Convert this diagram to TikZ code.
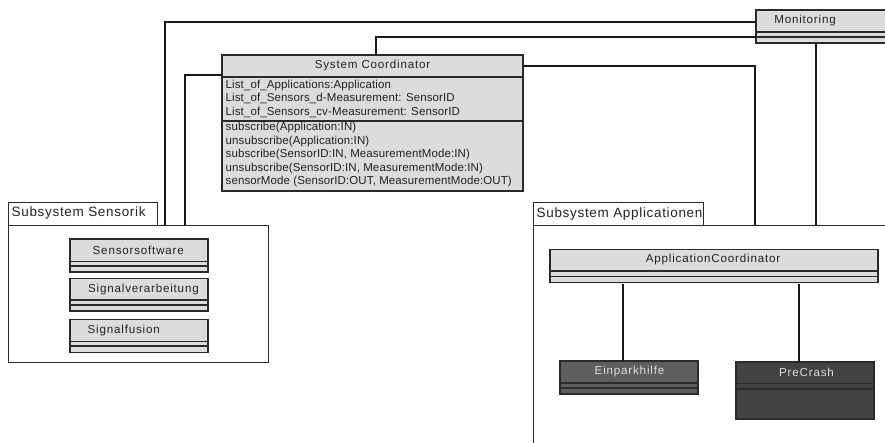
\documentclass[tikz,border=0pt]{standalone}
\usepackage{fontspec}
\setmainfont{Liberation Sans}
\newfontfamily\hdfont[LetterSpace=7]{Liberation Sans}
\newfontfamily\bdfont[LetterSpace=1]{Liberation Sans}
\newfontfamily\tabfont[LetterSpace=5]{Liberation Sans}
\definecolor{classfill}{HTML}{DCDCDC}
\definecolor{edge}{HTML}{2A2A2A}
\definecolor{darkfill}{HTML}{5E5E5E}
\definecolor{darkerfill}{HTML}{434343}
\definecolor{lighttext}{HTML}{DCDCDC}
\definecolor{inktext}{HTML}{222222}

% UML class box: name, left, top, width, header height,
% attribute height, operation height, fill colour
\newcommand{\umlclass}[8]{%
  \node[classbox, fill=#8, anchor=north west, minimum width=#4pt,
        minimum height={(#5+#6+#7)*1pt}] (#1) at (#2,#3) {};
  \draw[divider] (#2,#3+#5) -- ++(#4,0);
  \draw[divider] (#2,#3+#5+#6) -- ++(#4,0);
}

\tikzset{
  classbox/.style={draw=edge, line width=1.2pt, inner sep=0pt, outer sep=0pt},
  divider/.style={draw=edge, line width=1.1pt},
  pkgbox/.style={draw=edge, line width=0.9pt, fill=white, inner sep=0pt, outer sep=0pt},
  title/.style={font=\hdfont\fontsize{11.6}{13}\selectfont, text=inktext, inner sep=0pt},
  darktitle/.style={title, text=lighttext},
  bodytext/.style={font=\bdfont\fontsize{11.5}{13.5}\selectfont, text=inktext,
                   align=left, inner sep=0pt},
  tabtext/.style={font=\tabfont\fontsize{13.5}{15}\selectfont, text=inktext, inner sep=0pt},
  link/.style={draw=black!90, line width=1.5pt},
}

\begin{document}
\begin{tikzpicture}[x=1pt, y=-1pt]
\path[use as bounding box, clip] (0,0) rectangle (885,443);

% packages
\node[pkgbox, anchor=north west, minimum width=149pt, minimum height=23pt] (stab) at (8,202) {};
\node[pkgbox, anchor=north west, minimum width=260pt, minimum height=137pt] (sbody) at (8,225) {};
\node[tabtext, anchor=west] (stab-t) at (11.5,213.5) {Subsystem Sensorik};

\node[pkgbox, anchor=north west, minimum width=170pt, minimum height=23.5pt] (atab) at (533,202.3) {};
\node[pkgbox, anchor=north west, minimum width=380pt, minimum height=240pt] (abody) at (533,225.8) {};
\node[tabtext, anchor=west] (atab-t) at (536.5,214) {Subsystem Applicationen};

% classes
\umlclass{mon}{756}{10}{150}{22}{5}{6}{classfill}
\node[title] (mon-t) at (805,21) {Monitoring};

\umlclass{sc}{222}{55}{301}{22}{44}{70}{classfill}
\node[title] (sc-t) at (372.5,66) {System Coordinator};
\node[bodytext, anchor=west] (sc-attr) at (225.5,98.6)
  {List\_of\_Applications:Application\\
   List\_of\_Sensors\_d-Measurement: SensorID\\
   List\_of\_Sensors\_cv-Measurement: SensorID};
\node[bodytext, anchor=west] (sc-ops) at (225.5,155)
  {subscribe(Application:IN)\\
   unsubscribe(Application:IN)\\
   subscribe(SensorID:IN, MeasurementMode:IN)\\
   unsubscribe(SensorID:IN, MeasurementMode:IN)\\
   sensorMode (SensorID:OUT, MeasurementMode:OUT)};

\umlclass{sw}{70}{239}{138}{22.5}{4.5}{6}{classfill}
\node[title, anchor=west] (sw-t) at (92.5,250.5) {Sensorsoftware};
\umlclass{sv}{70}{278.5}{138}{21.5}{5}{6}{classfill}
\node[title, anchor=west] (sv-t) at (88,289.5) {Signalverarbeitung};
\umlclass{sf}{70}{319.5}{138}{22}{4.5}{6.5}{classfill}
\node[title, anchor=west] (sf-t) at (87.5,330.5) {Signalfusion};

\umlclass{ac}{550}{249.5}{328}{21.5}{5.5}{6}{classfill}
\node[title] (ac-t) at (713,260) {ApplicationCoordinator};

\umlclass{ep}{560}{361}{138}{22}{5}{6}{darkfill}
\node[darktitle] (ep-t) at (629.5,371.5) {Einparkhilfe};
\umlclass{pc}{736}{362}{138}{21.5}{5.5}{30}{darkerfill}
\node[darktitle] (pc-t) at (806.5,372) {PreCrash};

% connectors
\draw[link] ([yshift=-12pt]mon.north west) -| ([xshift=157pt]sbody.north west);
\draw[link] ([yshift=-27pt]mon.north west) -| ([xshift=154pt]sc.north west);
\draw[link] ([yshift=-20pt]sc.north west) -| ([xshift=177pt]sbody.north west);
\draw[link] ([yshift=-11pt]sc.north east) -| ([xshift=222pt]abody.north west);
\draw[link] ([xshift=60pt]mon.south west) -- ([xshift=60pt]mon.south west |- abody.north);
\draw[link, shorten <=2pt] ([xshift=-6pt]ep.north |- ac.south) -- ([xshift=-6pt]ep.north);
\draw[link, shorten <=2pt] ([xshift=-6pt]pc.north |- ac.south) -- ([xshift=-6pt]pc.north);
\end{tikzpicture}
\end{document}
